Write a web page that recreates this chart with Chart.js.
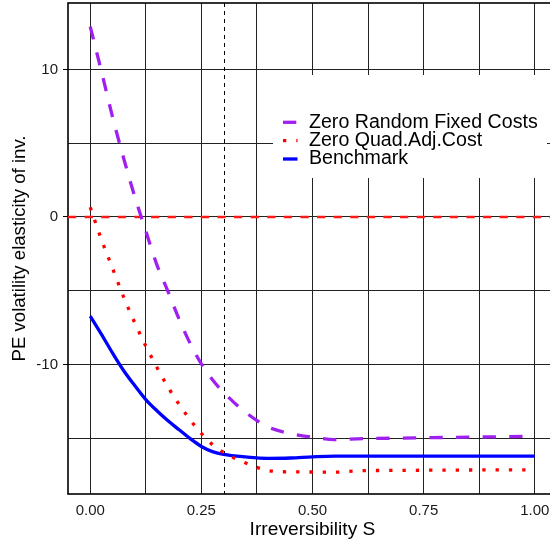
<!DOCTYPE html>
<html>
<head>
<meta charset="utf-8">
<script src="https://cdn.jsdelivr.net/npm/chart.js@4.4.1/dist/chart.umd.min.js"></script>
<style>
  html, body { margin: 0; padding: 0; background: #fff; overflow: hidden; }
  #wrap { position: absolute; left: 0; top: 0; width: 560px; height: 546px; }
</style>
</head>
<body>
<div id="wrap"><canvas id="c"></canvas></div>
<script>
// ---- data ----
const S = [0, 0.025, 0.05, 0.075, 0.1, 0.125, 0.15, 0.175, 0.2, 0.225, 0.25, 0.275, 0.3, 0.35, 0.4, 0.45, 0.5, 0.55, 0.6, 0.7, 0.8, 0.9, 1.0];
const zeroRandomFixed = [12.9, 9.9, 6.8, 4.0, 1.4, -0.95, -3.24, -5.05, -6.93, -8.58, -9.95, -11.03, -11.88, -13.25, -14.23, -14.67, -14.92, -15.08, -15.03, -14.98, -14.94, -14.9, -14.86];
const zeroQuadAdj = [0.66, -1.51, -3.46, -5.41, -7.15, -8.74, -10.19, -11.53, -12.7, -13.75, -14.67, -15.43, -15.95, -16.67, -17.18, -17.27, -17.28, -17.29, -17.2, -17.17, -17.15, -17.14, -17.13];
const benchmark = [-6.71, -7.94, -9.21, -10.4, -11.42, -12.37, -13.13, -13.81, -14.42, -15.02, -15.55, -15.9, -16.09, -16.26, -16.35, -16.33, -16.25, -16.2, -16.2, -16.2, -16.2, -16.2, -16.2];
const seriesLabels = ['Zero Random Fixed Costs', 'Zero Quad.Adj.Cost', 'Benchmark'];

const xGrid = [0, 0.125, 0.25, 0.375, 0.5, 0.625, 0.75, 0.875, 1];
const xTickLabels = ['0.00', '', '0.25', '', '0.50', '', '0.75', '', '1.00'];
const yGrid = [-15, -10, -5, 0, 5, 10];
const yTickLabels = ['', '-10', '', '0', '', '10'];
const xRange = [-0.05, 1.05];
const yRange = [-18.77, 14.5];
const refY = 0;     // red dashed horizontal line
const refX = 0.3;   // black dashed vertical line

const FONT = "'Liberation Sans', Arial, Helvetica, sans-serif";

const toXY = arr => arr.map((v, i) => ({ x: S[i], y: v }));

const refPlugin = {
  id: 'refLines',
  beforeDatasetsDraw(chart) {
    const { ctx, chartArea: a, scales: { x, y } } = chart;
    ctx.save();
    // panel frame
    ctx.strokeStyle = '#000';
    ctx.lineWidth = 1.6;
    ctx.setLineDash([]);
    ctx.strokeRect(a.left, a.top, a.right - a.left, a.bottom - a.top);
    // vertical dashed line
    const px = x.getPixelForValue(refX);
    ctx.lineWidth = 1;
    ctx.setLineDash([4, 4]);
    ctx.beginPath();
    ctx.moveTo(Math.round(px) + 0.5, a.top);
    ctx.lineTo(Math.round(px) + 0.5, a.bottom);
    ctx.stroke();
    // red dashed horizontal line
    const py = y.getPixelForValue(refY);
    ctx.strokeStyle = '#FF1a1a';
    ctx.lineWidth = 2.6;
    ctx.setLineDash([8.3, 8.3]);
    ctx.beginPath();
    ctx.moveTo(a.left, py);
    ctx.lineTo(a.right, py);
    ctx.stroke();
    ctx.restore();
  }
};

const legendPlugin = {
  id: 'boxLegend',
  afterDraw(chart) {
    const { ctx } = chart;
    ctx.save();
    ctx.fillStyle = '#fff';
    ctx.fillRect(273, 75, 274, 103);
    const rows = [122.3, 140.7, 159];
    ctx.font = '19.6px ' + FONT;
    ctx.textBaseline = 'middle';
    ctx.textAlign = 'left';
    chart.data.datasets.forEach((ds, i) => {
      const yy = rows[i];
      ctx.strokeStyle = ds.borderColor;
      ctx.lineWidth = ds.borderWidth;
      ctx.lineCap = 'butt';
      ctx.setLineDash(ds.borderDash || []);
      ctx.beginPath();
      ctx.moveTo(283, yy);
      ctx.lineTo(297.5, yy);
      ctx.stroke();
      ctx.setLineDash([]);
      ctx.fillStyle = '#000';
      ctx.fillText(ds.label, 309, yy);
    });
    ctx.restore();
  }
};

new Chart(document.getElementById('c'), {
  type: 'line',
  data: {
    datasets: [
      { label: seriesLabels[0], data: toXY(zeroRandomFixed), borderColor: '#A020F0', borderWidth: 3.3, borderDash: [13.3, 13.3], borderCapStyle: 'butt', pointRadius: 0, fill: false, cubicInterpolationMode: 'monotone' },
      { label: seriesLabels[1], data: toXY(zeroQuadAdj), borderColor: '#FF0000', borderWidth: 3.3, borderDash: [3.3, 10], borderCapStyle: 'butt', pointRadius: 0, fill: false, cubicInterpolationMode: 'monotone' },
      { label: seriesLabels[2], data: toXY(benchmark), borderColor: '#0000FF', borderWidth: 3.3, pointRadius: 0, fill: false, cubicInterpolationMode: 'monotone' }
    ]
  },
  options: {
    responsive: true,
    maintainAspectRatio: false,
    animation: false,
    events: [],
    layout: { padding: { left: 0, top: 3, right: 3, bottom: 0 } },
    plugins: { legend: { display: false }, tooltip: { enabled: false } },
    scales: {
      x: {
        type: 'linear',
        min: xRange[0], max: xRange[1],
        afterBuildTicks: s => { s.ticks = xGrid.map(v => ({ value: v })); },
        afterFit: s => { s.height = 52; s.paddingLeft = 0; s.paddingRight = 0; },
        ticks: { autoSkip: false, maxRotation: 0, padding: 8, color: '#1a1a1a', font: { family: FONT, size: 15 },
                 callback: (v, i) => xTickLabels[i] },
        grid: { color: '#222', lineWidth: 1, drawTicks: false },
        border: { display: false },
        title: { display: true, text: 'Irreversibility S', color: '#000', font: { family: FONT, size: 19.2 }, padding: { top: 0, bottom: 4.6 } }
      },
      y: {
        type: 'linear',
        min: yRange[0], max: yRange[1],
        afterBuildTicks: s => { s.ticks = yGrid.map(v => ({ value: v })); },
        afterFit: s => { s.width = 68; s.paddingTop = 0; s.paddingBottom = 0; },
        ticks: { autoSkip: false, padding: 5, color: '#1a1a1a', font: { family: FONT, size: 15 },
                 callback: (v, i) => yTickLabels[i] },
        grid: { color: '#222', lineWidth: 1, drawTicks: true, tickLength: 5,
                tickColor: c => (yTickLabels[c.index] ? '#000' : 'rgba(0,0,0,0)') },
        border: { display: false },
        title: { display: true, text: 'PE volatility elasticity of inv.', color: '#000', font: { family: FONT, size: 18.6 }, padding: { top: 9, bottom: 0 } }
      }
    }
  },
  plugins: [refPlugin, legendPlugin]
});
</script>
</body>
</html>
